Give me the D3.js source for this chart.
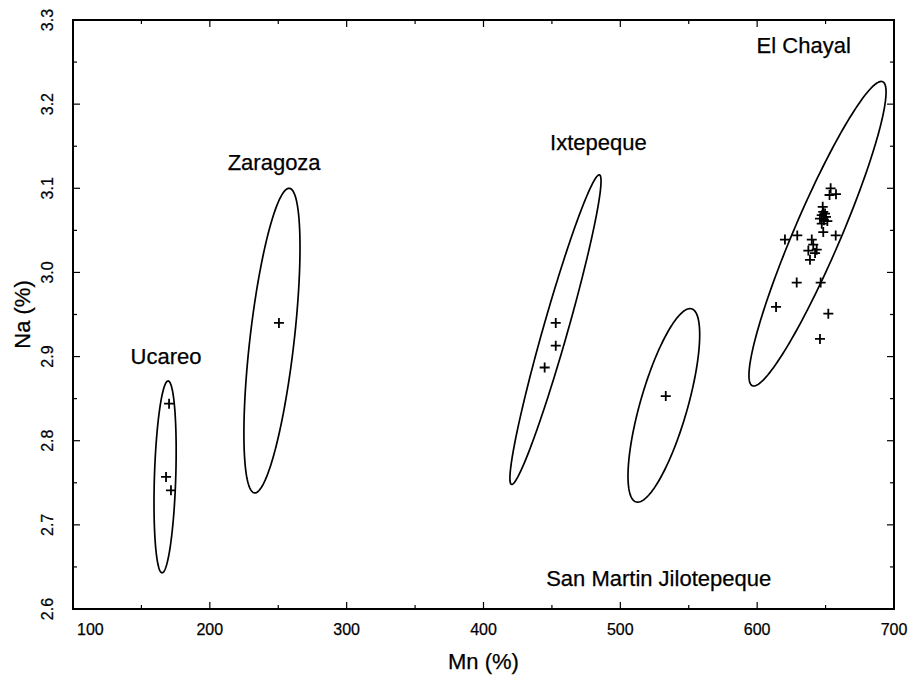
<!DOCTYPE html>
<html>
<head>
<meta charset="utf-8">
<script src="https://cdn.jsdelivr.net/npm/d3@7"></script>
<style>
  html, body { margin: 0; padding: 0; background: #fff; }
  svg text { font-family: Arial, 'Liberation Sans', Helvetica, sans-serif; fill: #000; stroke: #000; stroke-width: 0.25px; }
</style>
</head>
<body>
<div id="container"></div>
<script>
// Source groups (obsidian sources), Mn vs Na scatter with confidence ellipses

const sources = ['Ucareo', 'Zaragoza', 'Ixtepeque', 'San Martin Jilotepeque', 'El Chayal'];

// ellipse params per source: centre, half-range in Mn / Na, correlation
const ellipseCx = [167.3, 245.4, 452.6, 531.8, 644.1];
const ellipseCy = [2.757, 2.919, 2.932, 2.842, 3.046];
const ellipseRx = [8.1, 20.5, 33.3, 26.2, 50.1];
const ellipseRy = [0.114, 0.181, 0.184, 0.115, 0.181];
const ellipseR = [0.27, 0.61, 0.96, 0.73, 0.93];

// label anchor per source (Mn, Na)
const labelMn = [168, 247, 484, 528, 634];
const labelNa = [2.9, 3.131, 3.154, 2.636, 3.27];

// samples
const ucareoMn = [170.2, 168.0, 171.6];
const ucareoNa = [2.844, 2.757, 2.741];
const zaragozaMn = [250.5];
const zaragozaNa = [2.94];
const ixtepequeMn = [452.8, 452.8, 444.7];
const ixtepequeNa = [2.94, 2.913, 2.887];
const smjMn = [533.2];
const smjNa = [2.853];
const chayalMn = [653.7, 652.9, 657.6, 647.9, 648.3, 649.6, 647.2, 650.3, 645.9, 648.8, 651.3, 647.2,
  648.3, 657.4, 629.3, 620.3, 639.9, 641.0, 637.4, 643.5, 642.3, 638.6, 628.9, 646.4, 613.8, 652.0, 645.9];
const chayalNa = [3.1, 3.092, 3.093, 3.078, 3.072, 3.07, 3.068, 3.066, 3.064, 3.062, 3.061, 3.058,
  3.048, 3.044, 3.044, 3.039, 3.039, 3.033, 3.026, 3.027, 3.023, 3.015, 2.988, 2.988, 2.959, 2.951, 2.921];

const xTicks = [100, 200, 300, 400, 500, 600, 700];
const yTicks = [2.6, 2.7, 2.8, 2.9, 3.0, 3.1, 3.2, 3.3];

const width = 917;
const height = 684;
const margin = { top: 20, right: 23, bottom: 75, left: 73 };

const svg = d3.select('#container').append('svg').attr('width', width).attr('height', height);

const x = d3.scaleLinear().domain([100, 700]).range([margin.left, width - margin.right]);
const y = d3.scaleLinear().domain([2.6, 3.3]).range([height - margin.bottom, margin.top]);

const [x0, x1] = x.range();
const [y0, y1] = y.range();

// --- Ticks (inside, all four sides) ---
const xMinor = d3.range(150, 700, 100);
const yMinor = d3.range(2.65, 3.3, 0.1);
const ticks = svg.append('g').attr('stroke', '#000').attr('stroke-width', 1.2);

function tickX(vals, len) {
  vals.forEach((v) => {
    ticks.append('line').attr('x1', x(v)).attr('x2', x(v)).attr('y1', y0).attr('y2', y0 - len);
    ticks.append('line').attr('x1', x(v)).attr('x2', x(v)).attr('y1', y1).attr('y2', y1 + len);
  });
}
function tickY(vals, len) {
  vals.forEach((v) => {
    ticks.append('line').attr('x1', x0).attr('x2', x0 + len).attr('y1', y(v)).attr('y2', y(v));
    ticks.append('line').attr('x1', x1).attr('x2', x1 - len).attr('y1', y(v)).attr('y2', y(v));
  });
}
tickX(xTicks, 7);
tickX(xMinor, 4);
tickY(yTicks, 7);
tickY(yMinor, 4);

// frame
svg
  .append('rect')
  .attr('x', x0)
  .attr('y', y1)
  .attr('width', x1 - x0)
  .attr('height', y0 - y1)
  .attr('fill', 'none')
  .attr('stroke', '#000')
  .attr('stroke-width', 2);

// --- Tick labels ---
svg
  .append('g')
  .selectAll('text')
  .data(xTicks)
  .join('text')
  .attr('x', (d, i) => (i === 0 ? x(d) + 4 : x(d)))
  .attr('y', y0 + 26)
  .attr('text-anchor', (d, i) => (i === 0 ? 'start' : 'middle'))
  .style('font-size', '16px')
  .text((d) => d);

svg
  .append('g')
  .selectAll('text')
  .data(yTicks)
  .join('text')
  .attr('transform', (d) => `translate(${x0 - 20},${y(d)}) rotate(-90)`)
  .attr('text-anchor', 'middle')
  .style('font-size', '16px')
  .text((d) => d3.format('.1f')(d));

// --- Axis titles ---
svg
  .append('text')
  .attr('x', (x0 + x1) / 2)
  .attr('y', height - 15)
  .attr('text-anchor', 'middle')
  .style('font-size', '22px')
  .text('Mn (%)');

svg
  .append('text')
  .attr('transform', `translate(30,${(y0 + y1) / 2}) rotate(-90)`)
  .attr('text-anchor', 'middle')
  .style('font-size', '22px')
  .text('Na (%)');

// --- Ellipses ---
const steps = d3.range(0, 2 * Math.PI, Math.PI / 90);
const ellipseLine = d3
  .line()
  .x((p) => x(p[0]))
  .y((p) => y(p[1]))
  .curve(d3.curveLinearClosed);

svg
  .append('g')
  .selectAll('path')
  .data(sources)
  .join('path')
  .attr('d', (d, i) =>
    ellipseLine(
      steps.map((t) => [
        ellipseCx[i] + ellipseRx[i] * Math.cos(t),
        ellipseCy[i] +
          ellipseRy[i] * (ellipseR[i] * Math.cos(t) + Math.sqrt(1 - ellipseR[i] * ellipseR[i]) * Math.sin(t)),
      ]),
    ),
  )
  .attr('fill', 'none')
  .attr('stroke', '#000')
  .attr('stroke-width', 1.7);

// --- Points ---
const points = []
  .concat(ucareoMn.map((m, i) => [m, ucareoNa[i]]))
  .concat(zaragozaMn.map((m, i) => [m, zaragozaNa[i]]))
  .concat(ixtepequeMn.map((m, i) => [m, ixtepequeNa[i]]))
  .concat(smjMn.map((m, i) => [m, smjNa[i]]))
  .concat(chayalMn.map((m, i) => [m, chayalNa[i]]));

svg
  .append('g')
  .selectAll('path')
  .data(points)
  .join('path')
  .attr('transform', (d) => `translate(${x(d[0])},${y(d[1])})`)
  .attr('d', 'M-5,0H5M0,-5V5')
  .attr('stroke', '#000')
  .attr('stroke-width', 1.8);

// --- Source labels ---
svg
  .append('g')
  .selectAll('text')
  .data(sources)
  .join('text')
  .attr('x', (d, i) => x(labelMn[i]))
  .attr('y', (d, i) => y(labelNa[i]))
  .attr('text-anchor', 'middle')
  .attr('dominant-baseline', 'central')
  .style('font-size', '22px')
  .text((d) => d);
</script>
</body>
</html>
